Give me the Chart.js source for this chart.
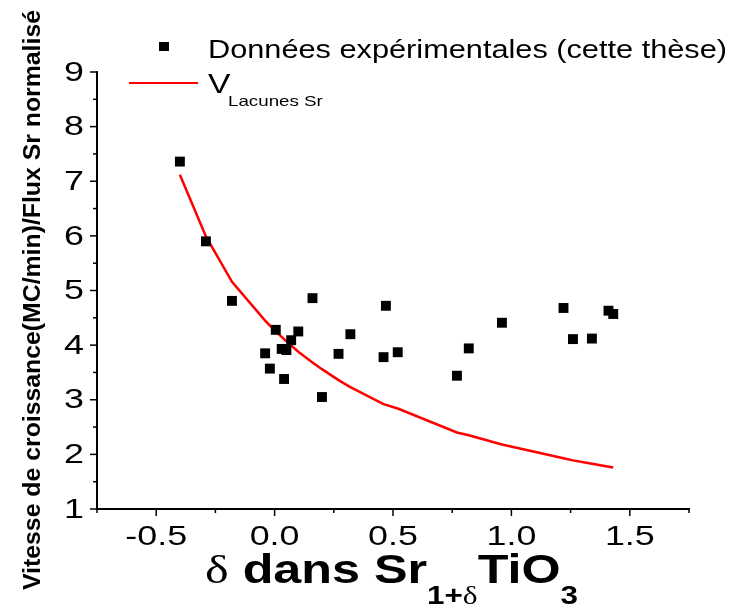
<!DOCTYPE html>
<html lang="fr">
<head>
  <meta charset="UTF-8">
  <title>Vitesse de croissance vs delta</title>
  <script src="https://cdn.jsdelivr.net/npm/chart.js"></script>
  <style>
    body { margin: 0; background: #fff; }
  </style>
</head>
<body>
  <canvas id="vitesseChart" width="735" height="606"></canvas>
  <script>
    // Données expérimentales : delta et vitesse de croissance normalisée
    const deltaExp = [-0.40, -0.29, -0.18, 0.005, -0.04, -0.02, 0.03, 0.05, 0.07, 0.10,
                      0.04, 0.20, 0.27, 0.16, 0.32, 0.47, 0.46, 0.52, 0.77, 0.82,
                      0.96, 1.22, 1.26, 1.34, 1.41, 1.43];
    const vitesseExp = [7.36, 5.90, 4.81, 4.28, 3.85, 3.57, 3.93, 3.91, 4.09, 4.25,
                        3.38, 3.05, 3.84, 4.86, 4.20, 4.72, 3.78, 3.87, 3.44, 3.94,
                        4.41, 4.68, 4.11, 4.12, 4.63, 4.57];

    // Modèle lacunes de Sr
    const deltaModel = [-0.40, -0.29, -0.18, -0.04, 0.00, 0.05, 0.10, 0.16, 0.20, 0.27,
                        0.32, 0.46, 0.52, 0.77, 0.82, 0.96, 1.22, 1.26, 1.34, 1.43];
    const vitesseModel = [7.12, 5.99, 5.16, 4.45, 4.27, 4.07, 3.88, 3.68, 3.56, 3.36,
                          3.23, 2.92, 2.84, 2.40, 2.35, 2.18, 1.93, 1.89, 1.83, 1.76];

    const xLabels = ['-0.5', '0.0', '0.5', '1.0', '1.5'];
    const yLabels = ['1', '2', '3', '4', '5', '6', '7', '8', '9'];

    const SANS = '"Liberation Sans", Arial, sans-serif';
    const SERIF = '"Liberation Serif", "DejaVu Serif", serif';
    const WIDE = 1.28; // police étirée horizontalement

    // texte étiré en largeur : sx fixe, ou ajusté sur une largeur cible
    function wideText(ctx, txt, x, y, font, sx, align) {
      ctx.save();
      ctx.font = font;
      const w = ctx.measureText(txt).width * sx;
      let x0 = x;
      if (align === 'center') x0 = x - w / 2;
      if (align === 'right') x0 = x - w;
      ctx.translate(x0, y);
      ctx.scale(sx, 1);
      ctx.textAlign = 'left';
      ctx.fillText(txt, 0, 0);
      ctx.restore();
      return w;
    }

    // graduations, étiquettes, titres d'axes et légende
    const annotations = {
      id: 'annotations',
      afterDraw(chart) {
        const ctx = chart.ctx;
        const xs = chart.scales.x, ys = chart.scales.y;
        const area = chart.chartArea;
        ctx.save();
        ctx.fillStyle = '#000';
        ctx.strokeStyle = '#000';
        ctx.lineWidth = 1.5;

        // graduations x
        ctx.textBaseline = 'alphabetic';
        xs.ticks.forEach(t => {
          const px = xs.getPixelForValue(t.value);
          const major = Math.abs(t.value * 2 - Math.round(t.value * 2)) < 1e-9;
          ctx.beginPath();
          ctx.moveTo(px, area.bottom);
          ctx.lineTo(px, area.bottom + (major ? 7 : 4));
          ctx.stroke();
          const lbl = (Math.abs(t.value) < 1e-9 ? 0 : t.value).toFixed(1);
          if (major && xLabels.includes(lbl)) {
            wideText(ctx, lbl, px, 545, '28px ' + SANS, WIDE, 'center');
          }
        });

        // graduations y
        ctx.textBaseline = 'middle';
        ys.ticks.forEach(t => {
          const py = ys.getPixelForValue(t.value);
          const major = Math.abs(t.value - Math.round(t.value)) < 1e-9;
          ctx.beginPath();
          ctx.moveTo(area.left, py);
          ctx.lineTo(area.left - (major ? 7 : 4), py);
          ctx.stroke();
          const lbl = String(t.value);
          if (major && yLabels.includes(lbl)) {
            wideText(ctx, lbl, 84, py + 1, '28px ' + SANS, WIDE, 'right');
          }
        });

        // légende
        ctx.textBaseline = 'alphabetic';
        ctx.fillRect(159, 42, 10, 9);
        ctx.font = '26px ' + SANS;
        const legW = ctx.measureText('Données expérimentales (cette thèse)').width;
        wideText(ctx, 'Données expérimentales (cette thèse)', 208, 58, '26px ' + SANS, 519 / legW);
        ctx.strokeStyle = '#ff0000';
        ctx.lineWidth = 2;
        ctx.beginPath();
        ctx.moveTo(129, 83);
        ctx.lineTo(198, 83);
        ctx.stroke();
        wideText(ctx, 'V', 208, 93, '28px ' + SANS, 1.2);
        wideText(ctx, 'Lacunes Sr', 228, 106, '15px ' + SANS, 1.25);

        // titre axe x
        const base = 583, sub = 604;
        const pieces = [
          ['δ', '40px ' + SERIF, base],
          [' dans Sr', 'bold 40px ' + SANS, base],
          ['1+', 'bold 25px ' + SANS, sub],
          ['δ', '25px ' + SERIF, sub],
          ['TiO', 'bold 40px ' + SANS, base],
          ['3', 'bold 25px ' + SANS, sub]
        ];
        let total = 0;
        pieces.forEach(([txt, font]) => { ctx.font = font; total += ctx.measureText(txt).width; });
        const sx = 373 / total;
        let x = 205;
        pieces.forEach(([txt, font, y]) => {
          x += wideText(ctx, txt, x, y, font, sx);
        });

        // titre axe y
        ctx.translate(33, 300);
        ctx.rotate(-Math.PI / 2);
        ctx.textBaseline = 'middle';
        const yTitle = 'Vitesse de croissance(MC/min)/Flux Sr normalisé';
        ctx.font = 'bold 24px ' + SANS;
        const yw = ctx.measureText(yTitle).width;
        wideText(ctx, yTitle, 0, 0, 'bold 24px ' + SANS, 580 / yw, 'center');
        ctx.restore();
      }
    };

    const ctx = document.getElementById('vitesseChart').getContext('2d');
    new Chart(ctx, {
      type: 'scatter',
      data: {
        datasets: [
          {
            label: 'Données expérimentales (cette thèse)',
            data: deltaExp.map((d, i) => ({ x: d, y: vitesseExp[i] })),
            pointStyle: 'rect',
            pointRadius: 7,
            pointBackgroundColor: '#000',
            pointBorderWidth: 0,
            showLine: false
          },
          {
            label: 'V Lacunes Sr',
            data: deltaModel.map((d, i) => ({ x: d, y: vitesseModel[i] })),
            showLine: true,
            borderColor: '#ff0000',
            borderWidth: 2.5,
            pointRadius: 0,
            tension: 0
          }
        ]
      },
      options: {
        responsive: false,
        animation: false,
        layout: { padding: { top: 72, right: 46, left: 0, bottom: 0 } },
        plugins: {
          legend: { display: false },
          tooltip: { enabled: false }
        },
        scales: {
          x: {
            type: 'linear',
            min: -0.75,
            max: 1.75,
            afterFit(scale) { scale.height = 97; },
            border: { display: true, color: '#000', width: 2 },
            grid: { display: false },
            ticks: { stepSize: 0.25, display: false, autoSkip: false }
          },
          y: {
            min: 1,
            max: 9,
            afterFit(scale) { scale.width = 97; },
            border: { display: true, color: '#000', width: 2 },
            grid: { display: false },
            ticks: { stepSize: 0.5, display: false, autoSkip: false }
          }
        }
      },
      plugins: [annotations]
    });
  </script>
</body>
</html>
